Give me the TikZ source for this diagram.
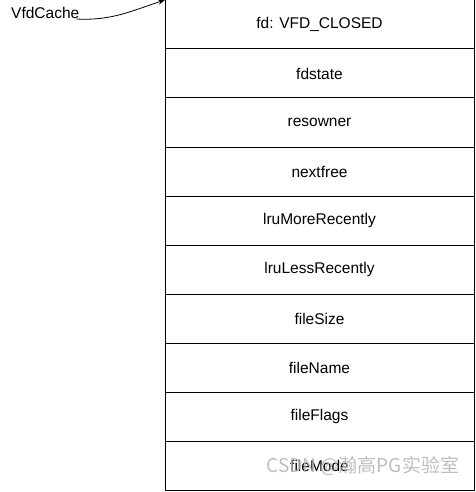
\documentclass[tikz,border=0pt]{standalone}
\usepackage{fontspec}
\setmainfont{Liberation Sans}
\newfontfamily\cjkfont{Noto Sans CJK SC}
\usepackage{tikz}
\usetikzlibrary{arrows.meta}
\usetikzlibrary{positioning}

\begin{document}
\begin{tikzpicture}[x=1bp,y=-1bp,
        field/.style={draw, line width=1bp, minimum width=309bp, minimum height=49bp,
            inner sep=0pt, outer sep=0pt, font=\fontsize{15.5bp}{18bp}\selectfont},
        watermark/.style={text=gray!60, text opacity=0.85, inner sep=0pt,
            font=\cjkfont\fontsize{19bp}{21bp}\selectfont}]
    \useasboundingbox (0,0) rectangle (476,492);
    % the Vfd struct, one field per row
    \node[field, anchor=north west] (fd) at (165,0) {fd: VFD\_CLOSED};
    \node[field, below=0pt of fd] (fdstate) {fdstate};
    \node[field, below=0pt of fdstate] (resowner) {resowner};
    \node[field, below=0pt of resowner] (nextfree) {nextfree};
    \node[field, below=0pt of nextfree] (more) {lruMoreRecently};
    \node[field, below=0pt of more] (less) {lruLessRecently};
    \node[field, below=0pt of less] (size) {fileSize};
    \node[field, below=0pt of size] (name) {fileName};
    \node[field, below=0pt of name] (flags) {fileFlags};
    \node[field, below=0pt of flags] (mode) {fileMode};
    % pointer
    \node[inner sep=0pt, anchor=base west, font=\fontsize{15.5bp}{18bp}\selectfont] (vfd) at (11,19) {VfdCache};
    \draw[line width=0.8bp, -{Stealth[length=7bp,width=5bp]}] ([xshift=-3bp]vfd.base east) to[out=-3,in=198] (fd.north west);
    % watermark
    \node[watermark] (wm) at (363,466) {CSDN @瀚高PG实验室};
\end{tikzpicture}
\end{document}
